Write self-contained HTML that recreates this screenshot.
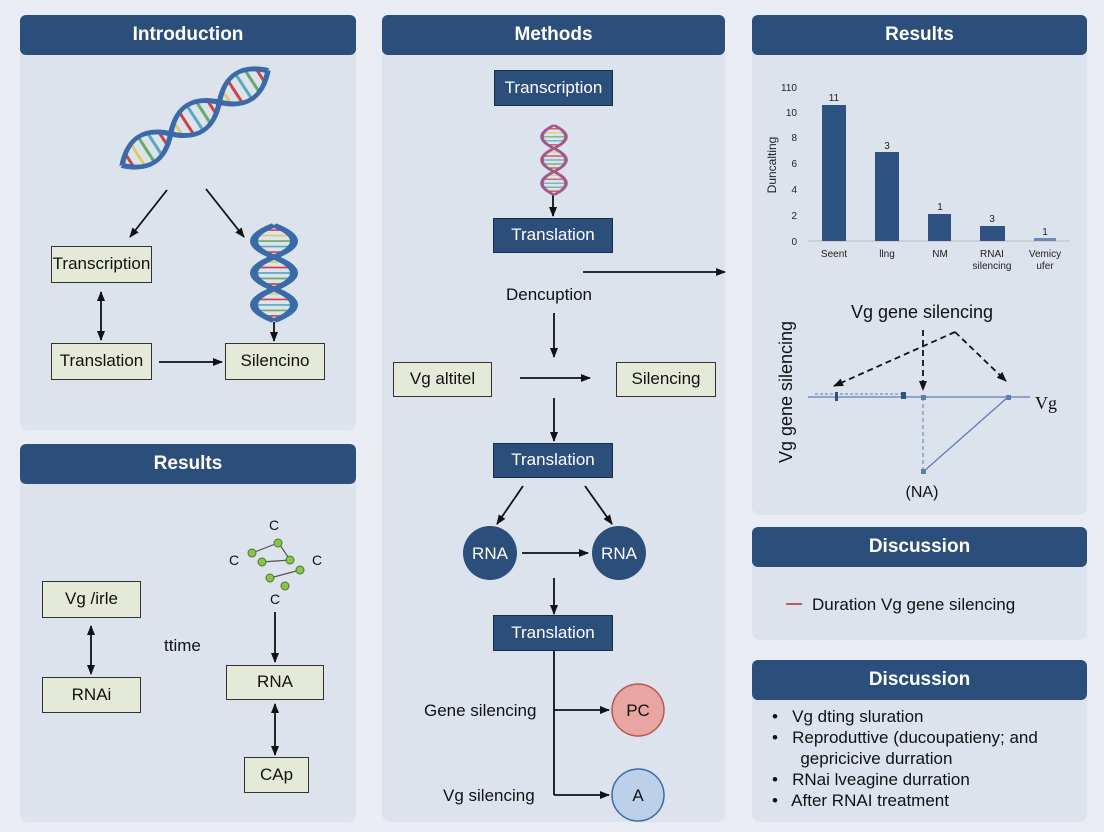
<!DOCTYPE html>
<html><head><meta charset="utf-8"><style>
body{margin:0;width:1104px;height:832px;background:#e9edf3;font-family:"Liberation Sans",sans-serif;position:relative;overflow:hidden}
.p{position:absolute;background:#dde3ed;border-radius:8px}
.h{position:absolute;background:#2b4e7b;color:#fff;font-weight:bold;font-size:19px;text-align:center;border-radius:6px;line-height:40px}
.b{position:absolute;background:#e4ead7;border:1.5px solid #333;font-size:17px;text-align:center;box-sizing:border-box;color:#111}
.d{position:absolute;background:#2b4e7b;border:1.5px solid #1a2e4a;color:#fff;font-size:17px;text-align:center;box-sizing:border-box}
.t{position:absolute;font-size:17px;color:#111;white-space:nowrap}
svg{position:absolute;left:0;top:0}
</style></head><body>
<div class="p" style="left:20px;top:15px;width:336px;height:415px"></div>
<div class="p" style="left:20px;top:444px;width:336px;height:378px"></div>
<div class="p" style="left:382px;top:15px;width:343px;height:807px"></div>
<div class="p" style="left:752px;top:15px;width:335px;height:500px"></div>
<div class="p" style="left:752px;top:527px;width:335px;height:113px"></div>
<div class="p" style="left:752px;top:660px;width:335px;height:162px"></div>
<div class="h" style="left:20px;top:15px;width:336px">Introduction</div>
<div class="h" style="left:20px;top:444px;width:336px">Results</div>
<div class="h" style="left:382px;top:15px;width:343px">Methods</div>
<div class="h" style="left:752px;top:15px;width:335px">Results</div>
<div class="h" style="left:752px;top:527px;width:335px">Discussion</div>
<div class="h" style="left:752px;top:660px;width:335px">Discussion</div>

<svg width="1104" height="832">
<defs><marker id="a" markerWidth="10" markerHeight="10" refX="9" refY="5" orient="auto" markerUnits="userSpaceOnUse"><path d="M0,1 L10,5 L0,9z" fill="#111"/></marker>
<marker id="s" markerWidth="10" markerHeight="10" refX="1" refY="5" orient="auto" markerUnits="userSpaceOnUse"><path d="M10,1 L0,5 L10,9z" fill="#111"/></marker>
<g id="rungs">
<line x1="-78" y1="-9" x2="-78" y2="9" stroke="#c44"/><line x1="-68" y1="-17" x2="-68" y2="17" stroke="#dc6"/><line x1="-58" y1="-20" x2="-58" y2="20" stroke="#6a6"/>
<line x1="-48" y1="-17" x2="-48" y2="17" stroke="#5ab"/><line x1="-38" y1="-9" x2="-38" y2="9" stroke="#c44"/>
<line x1="-20" y1="-9" x2="-20" y2="9" stroke="#dc6"/><line x1="-10" y1="-17" x2="-10" y2="17" stroke="#c44"/><line x1="0" y1="-20" x2="0" y2="20" stroke="#5ab"/>
<line x1="10" y1="-17" x2="10" y2="17" stroke="#6a6"/><line x1="20" y1="-9" x2="20" y2="9" stroke="#c44"/>
<line x1="38" y1="-9" x2="38" y2="9" stroke="#dc6"/><line x1="48" y1="-17" x2="48" y2="17" stroke="#c44"/><line x1="58" y1="-20" x2="58" y2="20" stroke="#5ab"/>
<line x1="68" y1="-17" x2="68" y2="17" stroke="#6a6"/><line x1="78" y1="-9" x2="78" y2="9" stroke="#c44"/>
</g>
<path id="s1" d="M-87,0 Q-58,-40 -29,0 Q0,40 29,0 Q58,-40 87,0"/>
<path id="s2" d="M-87,0 Q-58,40 -29,0 Q0,-40 29,0 Q58,40 87,0"/>
</defs>
<g stroke="#111" stroke-width="1.8" fill="none" marker-end="url(#a)">
<line x1="167" y1="190" x2="130" y2="237"/>
<line x1="206" y1="189" x2="244" y2="237"/>
<line x1="101" y1="292" x2="101" y2="340" marker-start="url(#s)"/>
<line x1="159" y1="362" x2="222" y2="362"/>
<line x1="274" y1="322" x2="274" y2="341"/>
<line x1="91" y1="626" x2="91" y2="674" marker-start="url(#s)"/>
<line x1="275" y1="612" x2="275" y2="662"/>
<line x1="275" y1="704" x2="275" y2="755" marker-start="url(#s)"/>
<line x1="553" y1="195" x2="553" y2="216"/>
<line x1="583" y1="272" x2="725" y2="272"/>
<line x1="554" y1="313" x2="554" y2="357"/>
<line x1="520" y1="378" x2="590" y2="378"/>
<line x1="554" y1="398" x2="554" y2="441"/>
<line x1="523" y1="486" x2="497" y2="524"/>
<line x1="585" y1="486" x2="612" y2="524"/>
<line x1="522" y1="553" x2="588" y2="553"/>
<line x1="554" y1="578" x2="554" y2="614"/>
<line x1="554" y1="710" x2="609" y2="710"/>
<line x1="554" y1="795" x2="609" y2="795"/>
<line x1="955" y1="332" x2="834" y2="386" stroke-dasharray="6,4"/>
<line x1="923" y1="330" x2="923" y2="390" stroke-dasharray="6,4"/>
<line x1="955" y1="332" x2="1006" y2="381" stroke-dasharray="6,4"/>
</g>
<line x1="554" y1="651" x2="554" y2="795" stroke="#111" stroke-width="1.8"/>
<line x1="786" y1="604" x2="802" y2="604" stroke="#a33" stroke-width="1.5"/>
<!-- DNA top -->
<g transform="translate(195,118) rotate(-33) scale(1,0.75)"><use href="#rungs" stroke-width="3"/><g fill="none" stroke="#3b6aa8" stroke-width="6"><use href="#s1"/><use href="#s2"/></g></g>
<!-- DNA vertical -->
<g transform="translate(274,273) rotate(90) scale(0.55,1)"><use href="#rungs" stroke-width="3"/><g fill="none" stroke="#3b6aa8" stroke-width="8"><use href="#s1"/><use href="#s2"/></g></g>
<!-- small DNA methods -->
<g transform="translate(554,160) rotate(90) scale(0.4,0.6)"><use href="#rungs" stroke-width="3"/><g fill="none" stroke="#a05a8a" stroke-width="6"><use href="#s1"/><use href="#s2"/></g></g>
<!-- molecule -->
<g stroke="#555" stroke-width="1.2"><line x1="252" y1="553" x2="278" y2="543"/><line x1="262" y1="562" x2="290" y2="560"/><line x1="270" y1="578" x2="300" y2="570"/><line x1="280" y1="545" x2="290" y2="560"/></g>
<g fill="#8bc34a" stroke="#4a7a2a"><circle cx="252" cy="553" r="4"/><circle cx="278" cy="543" r="4"/><circle cx="262" cy="562" r="4"/><circle cx="290" cy="560" r="4"/><circle cx="270" cy="578" r="4"/><circle cx="300" cy="570" r="4"/><circle cx="285" cy="586" r="4"/></g>
<!-- circles -->
<circle cx="490" cy="553" r="27" fill="#2b4e7b"/><circle cx="619" cy="553" r="27" fill="#2b4e7b"/>
<circle cx="638" cy="710" r="26" fill="#e8a6a3" stroke="#b55" stroke-width="1.5"/>
<circle cx="638" cy="795" r="26" fill="#bcd0ea" stroke="#3b6aa8" stroke-width="1.5"/>
<g font-size="17" font-family="Liberation Sans" text-anchor="middle">
<text x="490" y="559" fill="#fff">RNA</text><text x="619" y="559" fill="#fff">RNA</text>
<text x="638" y="716" fill="#111">PC</text><text x="638" y="801" fill="#111">A</text></g>
<!-- chart -->
<line x1="808" y1="241" x2="1070" y2="241" stroke="#bbb"/>
<g fill="#2e5282"><rect x="822" y="105" width="24" height="136"/><rect x="875" y="152" width="24" height="89"/><rect x="928" y="214" width="23" height="27"/><rect x="980" y="226" width="25" height="15"/><rect x="1034" y="238" width="22" height="3" fill="#6a8ab8"/></g>
<g font-size="10" fill="#222" font-family="Liberation Sans">
<text x="797" y="91" text-anchor="end">110</text><text x="797" y="116" text-anchor="end">10</text><text x="797" y="141" text-anchor="end">8</text><text x="797" y="167" text-anchor="end">6</text><text x="797" y="193" text-anchor="end">4</text><text x="797" y="219" text-anchor="end">2</text><text x="797" y="245" text-anchor="end">0</text>
<text x="834" y="101" text-anchor="middle">11</text><text x="887" y="149" text-anchor="middle">3</text><text x="940" y="210" text-anchor="middle">1</text><text x="992" y="222" text-anchor="middle">3</text><text x="1045" y="235" text-anchor="middle">1</text>
<text x="834" y="257" text-anchor="middle">Seent</text><text x="887" y="257" text-anchor="middle">llng</text><text x="940" y="257" text-anchor="middle">NM</text><text x="992" y="257" text-anchor="middle">RNAI</text><text x="992" y="269" text-anchor="middle">silencing</text><text x="1045" y="257" text-anchor="middle">Vemicy</text><text x="1045" y="269" text-anchor="middle">ufer</text>
<text transform="translate(776,165) rotate(-90)" text-anchor="middle" font-size="12">Duncalting</text>
</g>
<!-- diagram -->
<line x1="808" y1="397" x2="1030" y2="397" stroke="#5b7fb5" stroke-width="1.3"/>
<line x1="815" y1="394" x2="905" y2="394" stroke="#5b7fb5" stroke-dasharray="3,2"/>
<line x1="923" y1="397" x2="923" y2="472" stroke="#5b7fb5" stroke-dasharray="4,3"/>
<line x1="1008" y1="397" x2="923" y2="472" stroke="#5b7fb5" stroke-width="1.3"/>
<g fill="#2e5282"><rect x="835" y="392" width="3" height="9"/><rect x="901" y="392" width="5" height="7"/><rect x="921" y="395" width="5" height="5" fill="#5b7fb5"/><rect x="1006" y="395" width="5" height="5" fill="#5b7fb5"/><rect x="921" y="469" width="5" height="5" fill="#5b7fb5"/></g>
<text x="922" y="318" font-size="18" text-anchor="middle" font-family="Liberation Sans" fill="#111">Vg gene silencing</text>
<text x="1035" y="409" font-size="18" font-family="Liberation Serif" fill="#111">Vg</text>
<text x="922" y="497" font-size="16" text-anchor="middle" font-family="Liberation Sans" fill="#111">(NA)</text>
<text transform="translate(792,392) rotate(-90)" font-size="18" text-anchor="middle" font-family="Liberation Sans" fill="#111">Vg gene silencing</text>
<g font-size="14" fill="#111" font-family="Liberation Sans"><text x="229" y="565">C</text><text x="269" y="530">C</text><text x="312" y="565">C</text><text x="270" y="604">C</text></g>
</svg>

<div class="b" style="left:51px;top:246px;width:101px;height:37px;line-height:34px">Transcription</div>
<div class="b" style="left:51px;top:343px;width:101px;height:37px;line-height:34px">Translation</div>
<div class="b" style="left:225px;top:343px;width:100px;height:37px;line-height:34px">Silencino</div>
<div class="b" style="left:42px;top:581px;width:99px;height:37px;line-height:34px">Vg /irle</div>
<div class="b" style="left:42px;top:677px;width:99px;height:36px;line-height:33px">RNAi</div>
<div class="b" style="left:226px;top:665px;width:98px;height:35px;line-height:32px">RNA</div>
<div class="b" style="left:244px;top:757px;width:65px;height:36px;line-height:33px">CAp</div>
<div class="t" style="left:164px;top:636px">ttime</div>
<div class="d" style="left:494px;top:70px;width:119px;height:36px;line-height:33px">Transcription</div>
<div class="d" style="left:493px;top:218px;width:120px;height:35px;line-height:32px">Translation</div>
<div class="d" style="left:493px;top:443px;width:120px;height:35px;line-height:32px">Translation</div>
<div class="d" style="left:493px;top:615px;width:120px;height:36px;line-height:33px">Translation</div>
<div class="t" style="left:506px;top:285px">Dencuption</div>
<div class="b" style="left:393px;top:362px;width:99px;height:35px;line-height:32px">Vg altitel</div>
<div class="b" style="left:616px;top:362px;width:100px;height:35px;line-height:32px">Silencing</div>
<div class="t" style="left:424px;top:701px">Gene silencing</div>
<div class="t" style="left:443px;top:786px">Vg silencing</div>
<div class="t" style="left:812px;top:595px">Duration Vg gene silencing</div>
<div class="t" style="left:772px;top:706px;line-height:21px">•&nbsp;&nbsp; Vg dting sluration<br>•&nbsp;&nbsp; Reproduttive (ducoupatieny; and<br>&nbsp;&nbsp;&nbsp;&nbsp;&nbsp; gepricicive durration<br>•&nbsp;&nbsp; RNai lveagine durration<br>•&nbsp;&nbsp; After RNAI treatment</div>
</body></html>
